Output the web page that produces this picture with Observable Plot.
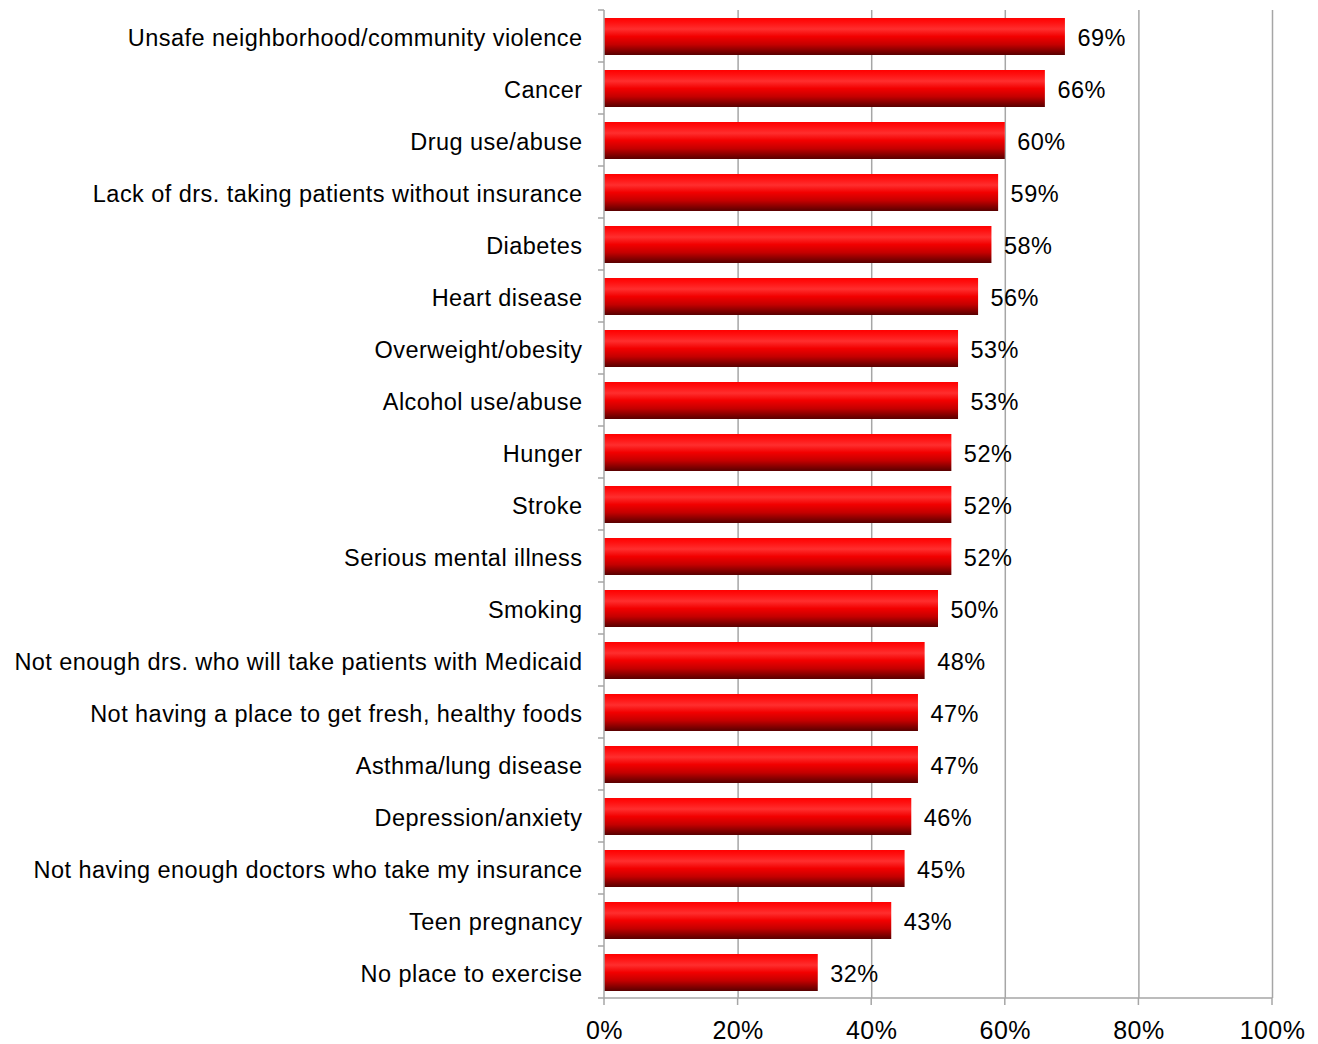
<!DOCTYPE html>
<html>
<head>
<meta charset="utf-8">
<script src="https://cdn.jsdelivr.net/npm/d3@7"></script>
<script src="https://cdn.jsdelivr.net/npm/@observablehq/plot@0.6"></script>
<style>
  html, body { margin: 0; padding: 0; background: #fff; }
  #chart { width: 1318px; height: 1044px; }
  #chart text { letter-spacing: 0.45px; }
</style>
</head>
<body>
<div id="chart"></div>
<script>
const categories = [
  "Unsafe neighborhood/community violence",
  "Cancer",
  "Drug use/abuse",
  "Lack of drs. taking patients without insurance",
  "Diabetes",
  "Heart disease",
  "Overweight/obesity",
  "Alcohol use/abuse",
  "Hunger",
  "Stroke",
  "Serious mental illness",
  "Smoking",
  "Not enough drs. who will take patients with Medicaid",
  "Not having a place to get fresh, healthy foods",
  "Asthma/lung disease",
  "Depression/anxiety",
  "Not having enough doctors who take my insurance",
  "Teen pregnancy",
  "No place to exercise"
];
const values = [69, 66, 60, 59, 58, 56, 53, 53, 52, 52, 52, 50, 48, 47, 47, 46, 45, 43, 32];
const xTicks = [0, 20, 40, 60, 80, 100];

const data = categories.map((c, i) => ({category: c, value: values[i]}));
const gridColor = "#a6a6a6";

function defsMark() {
  const g = d3.create("svg:g");
  const lg = g.append("defs").append("linearGradient")
    .attr("id", "redgrad").attr("x1", 0).attr("y1", 0).attr("x2", 0).attr("y2", 1);
  [[0, "#ff0000"], [0.12, "#ff1010"], [0.3, "#ff2e2e"], [0.5, "#f20000"], [0.72, "#c40000"], [1, "#580000"]]
    .forEach(([o, c]) => lg.append("stop").attr("offset", o).attr("stop-color", c));
  return g.node();
}

function axisLines(index, scales, values, dims) {
  const x = scales.x;
  const g = d3.create("svg:g").attr("stroke", gridColor).attr("stroke-width", 1.5).attr("fill", "none");
  const top = dims.marginTop, bottom = dims.height - dims.marginBottom;
  const x0 = x(0), x1 = x(100);
  g.append("line").attr("x1", x0).attr("x2", x0).attr("y1", top).attr("y2", bottom);
  g.append("line").attr("x1", x0).attr("x2", x1).attr("y1", bottom).attr("y2", bottom);
  const step = (bottom - top) / categories.length;
  for (let i = 0; i <= categories.length; i++) {
    const yy = top + i * step;
    g.append("line").attr("x1", x0 - 6).attr("x2", x0).attr("y1", yy).attr("y2", yy);
  }
  xTicks.forEach(t => {
    g.append("line").attr("x1", x(t)).attr("x2", x(t)).attr("y1", bottom).attr("y2", bottom + 7);
  });
  return g.node();
}

const chart = Plot.plot({
  width: 1318,
  height: 1044,
  marginTop: 10,
  marginBottom: 46,
  marginLeft: 604,
  marginRight: 46,
  style: {fontFamily: "'Liberation Sans', Arial, sans-serif", color: "#000", background: "#fff"},
  x: {domain: [0, 100], ticks: xTicks, label: null},
  y: {domain: categories, paddingInner: 0.29, paddingOuter: 0.145, label: null},
  marks: [
    defsMark,
    Plot.ruleX(xTicks.filter(t => t > 0), {stroke: gridColor, strokeWidth: 1.5, strokeOpacity: 1}),
    Plot.barX(data, {y: "category", x: "value", fill: "url(#redgrad)"}),
    axisLines,
    Plot.text(data, {y: "category", x: "value", text: d => d.value + "%", textAnchor: "start", dx: 12, dy: 1.5, fontSize: 23.5, fill: "#000"}),
    Plot.axisY({tickSize: 0, tickPadding: 22, fontSize: 23.5, dy: 1.5, label: null}),
    Plot.axisX({ticks: xTicks, tickFormat: d => d + "%", tickSize: 0, tickPadding: 23, fontSize: 25, label: null})
  ]
});
document.getElementById("chart").appendChild(chart);
</script>
</body>
</html>
